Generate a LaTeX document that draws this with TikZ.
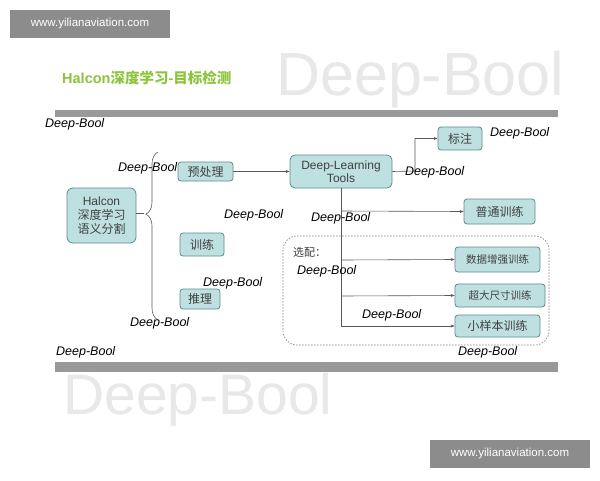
\documentclass[tikz,border=0pt]{standalone}
\usepackage{fontspec}
\setmainfont{Liberation Sans}
\newfontfamily\cjk{Noto Sans CJK SC}
\usetikzlibrary{arrows.meta,decorations.pathreplacing}
\definecolor{boxf}{HTML}{BFE0E0}
\definecolor{boxd}{HTML}{5E8C8C}
\definecolor{ttl}{HTML}{8CC43C}
\tikzset{
 bx/.style={draw=boxd,fill=boxf,rounded corners=3pt,line width=0.8pt,inner sep=0pt,font=\cjk\fontsize{12}{14}\selectfont,text=black!75},
 db/.style={anchor=west,inner sep=0pt,font=\itshape\fontsize{12.5}{13}\selectfont},
 ar/.style={-{Stealth[length=4pt,width=3pt]},draw=black!65,line width=0.6pt},
 ln/.style={draw=black!65,line width=0.6pt},
 wm/.style={text=black!9,inner sep=0pt},
 gb/.style={fill=black!40,draw=none},
}
\begin{document}
\begin{tikzpicture}[x=1pt,y=-1pt]
\useasboundingbox[fill=white] (0,0) rectangle (600,480);
\node[wm,anchor=west,font=\fontsize{61}{64}\selectfont] (w1) at (276,80) {Deep-Bool};
\node[wm,anchor=west,font=\fontsize{57}{60}\selectfont] (w2) at (63,400) {Deep-Bool};
\fill[black!45] (10,10) rectangle (170,38);
\node[text=white,font=\fontsize{11.5}{12}\selectfont] (u1) at (90,24) {www.yilianaviation.com};
\fill[black!45] (430,440) rectangle (590,468);
\node[text=white,font=\fontsize{11.5}{12}\selectfont] (u2) at (510,454) {www.yilianaviation.com};
\node[anchor=west,text=ttl,font=\bfseries\fontsize{14.5}{16}\selectfont,inner sep=0pt] (t) at (62,78) {Halcon{\cjk 深度学习}-{\cjk 目标检测}};
\fill[gb] (55,110) rectangle (558,117);
\fill[gb] (55,362) rectangle (558,372);
\node[bx,minimum width=69pt,minimum height=55pt,align=center,rounded corners=6pt,font=\cjk\fontsize{12}{14}\selectfont] (h) at (101.5,215.5) {{\fontspec{Liberation Sans}Halcon}\\深度学习\\语义分割};
\draw[ln,decorate,decoration={brace,amplitude=12pt,mirror,aspect=0.37}] (158,152) -- (158,320);
\draw[ln] (136,213) -- (144,213);
\node[bx,minimum width=55pt,minimum height=19pt] (p) at (205.5,171.5) {预处理};
\node[bx,minimum width=44pt,minimum height=23pt] (tr) at (202,244.5) {训练};
\node[bx,minimum width=40pt,minimum height=20pt] (tl) at (200,299) {推理};
\node[bx,minimum width=102pt,minimum height=33pt,align=center,font=\fontsize{12}{13}\selectfont,rounded corners=5pt] (d) at (341,171.5) {Deep-Learning\\Tools};
\node[bx,minimum width=44pt,minimum height=23pt] (bz) at (460,138.5) {标注};
\node[bx,minimum width=71pt,minimum height=25pt] (pt) at (499.5,211.5) {普通训练};
\node[bx,minimum width=85pt,minimum height=25pt,font=\cjk\fontsize{10.5}{12}\selectfont] (sj) at (497.5,259.5) {数据增强训练};
\node[bx,minimum width=90pt,minimum height=23pt,font=\cjk\fontsize{10.5}{12}\selectfont] (cd) at (500,295.5) {超大尺寸训练};
\node[bx,minimum width=85pt,minimum height=22pt] (xy) at (497.5,326) {小样本训练};
\draw[ln,dash pattern=on 1.5pt off 1.5pt,draw=black!50,rounded corners=14pt] (283,236) rectangle (549,345);
\node[anchor=west,inner sep=0pt,font=\cjk\fontsize{11}{12}\selectfont,text=black!75] (xp) at (293,252) {选配：};
\draw[ar] (p) -- (d);
\coordinate (k1) at (415,171);
\draw[ar] (d.east) -- (k1) |- (bz.west);
\coordinate (v) at (341,326);
\draw[ln] (d.south) -- (v);
\draw[ar] (341,211) -- (pt.west);
\draw[ar] (341,260) -- (sj.west);
\draw[ar] (341,296) -- (cd.west);
\draw[ar] (v) -- (xy.west);
\foreach \i/\x/\y in {a/45/124,b/118/168,c/224/215,e/311/218,f/405/172,g/490/133,h/297/271,i/203/283,j/130/323,k/362/315,l/56/352,m/458/352}
  \node[db] (db\i) at (\x,\y) {Deep-Bool};
\end{tikzpicture}
\end{document}
